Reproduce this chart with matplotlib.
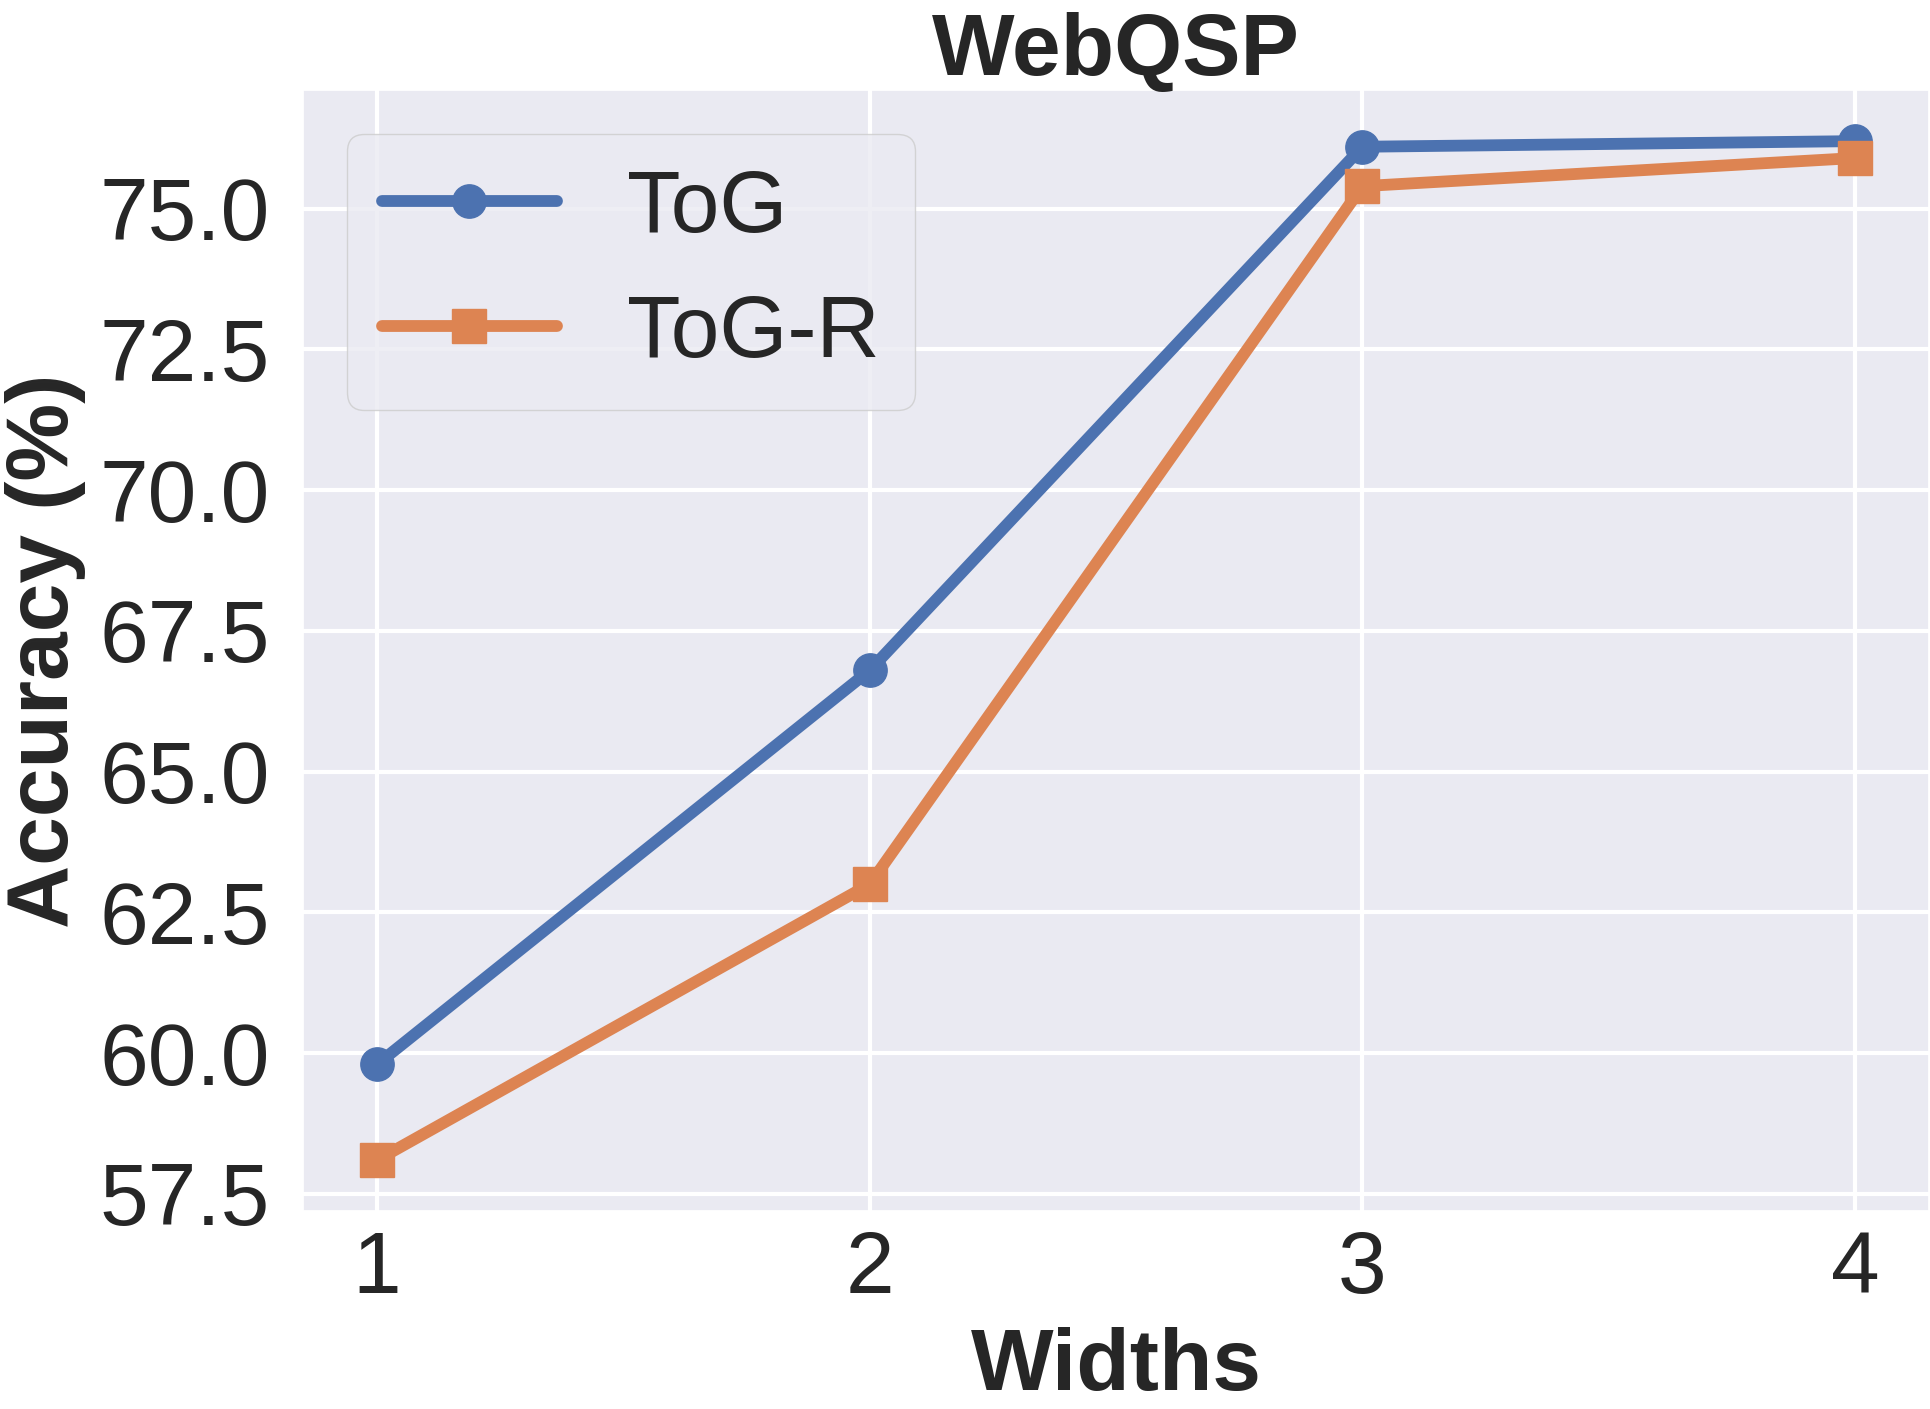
import matplotlib
matplotlib.use("Agg")
import matplotlib.pyplot as plt
import seaborn as sns
from matplotlib.ticker import FormatStrFormatter

##############################
# data
##############################

widths = [1, 2, 3, 4]
tog_acc = [59.8, 66.8, 76.1, 76.2]
togr_acc = [58.1, 63.0, 75.4, 75.9]
y_ticks = [57.5, 60.0, 62.5, 65.0, 67.5, 70.0, 72.5, 75.0]

##############################
# style
##############################

sns.set_theme(style="darkgrid")
plt.rcParams['font.family'] = ['Liberation Sans', 'DejaVu Sans']

fig = plt.figure(figsize=(19.31, 14.09), dpi=100)
ax = fig.add_axes([0.157, 0.1405, 0.842, 0.7955])

ax.plot(widths, tog_acc, color='#4C72B0', marker='o', markersize=24,
        linewidth=8.5, solid_capstyle='round', label='ToG')
ax.plot(widths, togr_acc, color='#DD8452', marker='s', markersize=24,
        linewidth=8.5, solid_capstyle='round', label='ToG-R')

ax.set_xticks(widths)
ax.set_yticks(y_ticks)
ax.yaxis.set_major_formatter(FormatStrFormatter('%.1f'))
ax.tick_params(axis='x', labelsize=63, pad=14, length=0)
ax.tick_params(axis='y', labelsize=63, pad=24, length=0)
ax.grid(color='white', linewidth=3)

ax.set_title('WebQSP', fontsize=63, fontweight='bold', pad=11)
ax.set_xlabel('Widths', fontsize=63, fontweight='bold', labelpad=11)
ax.set_ylabel('Accuracy (%)', fontsize=63, fontweight='bold', labelpad=10)

ax.legend(loc='upper left', fontsize=63, borderaxespad=0.5)

fig.savefig('out.png', dpi=100)
